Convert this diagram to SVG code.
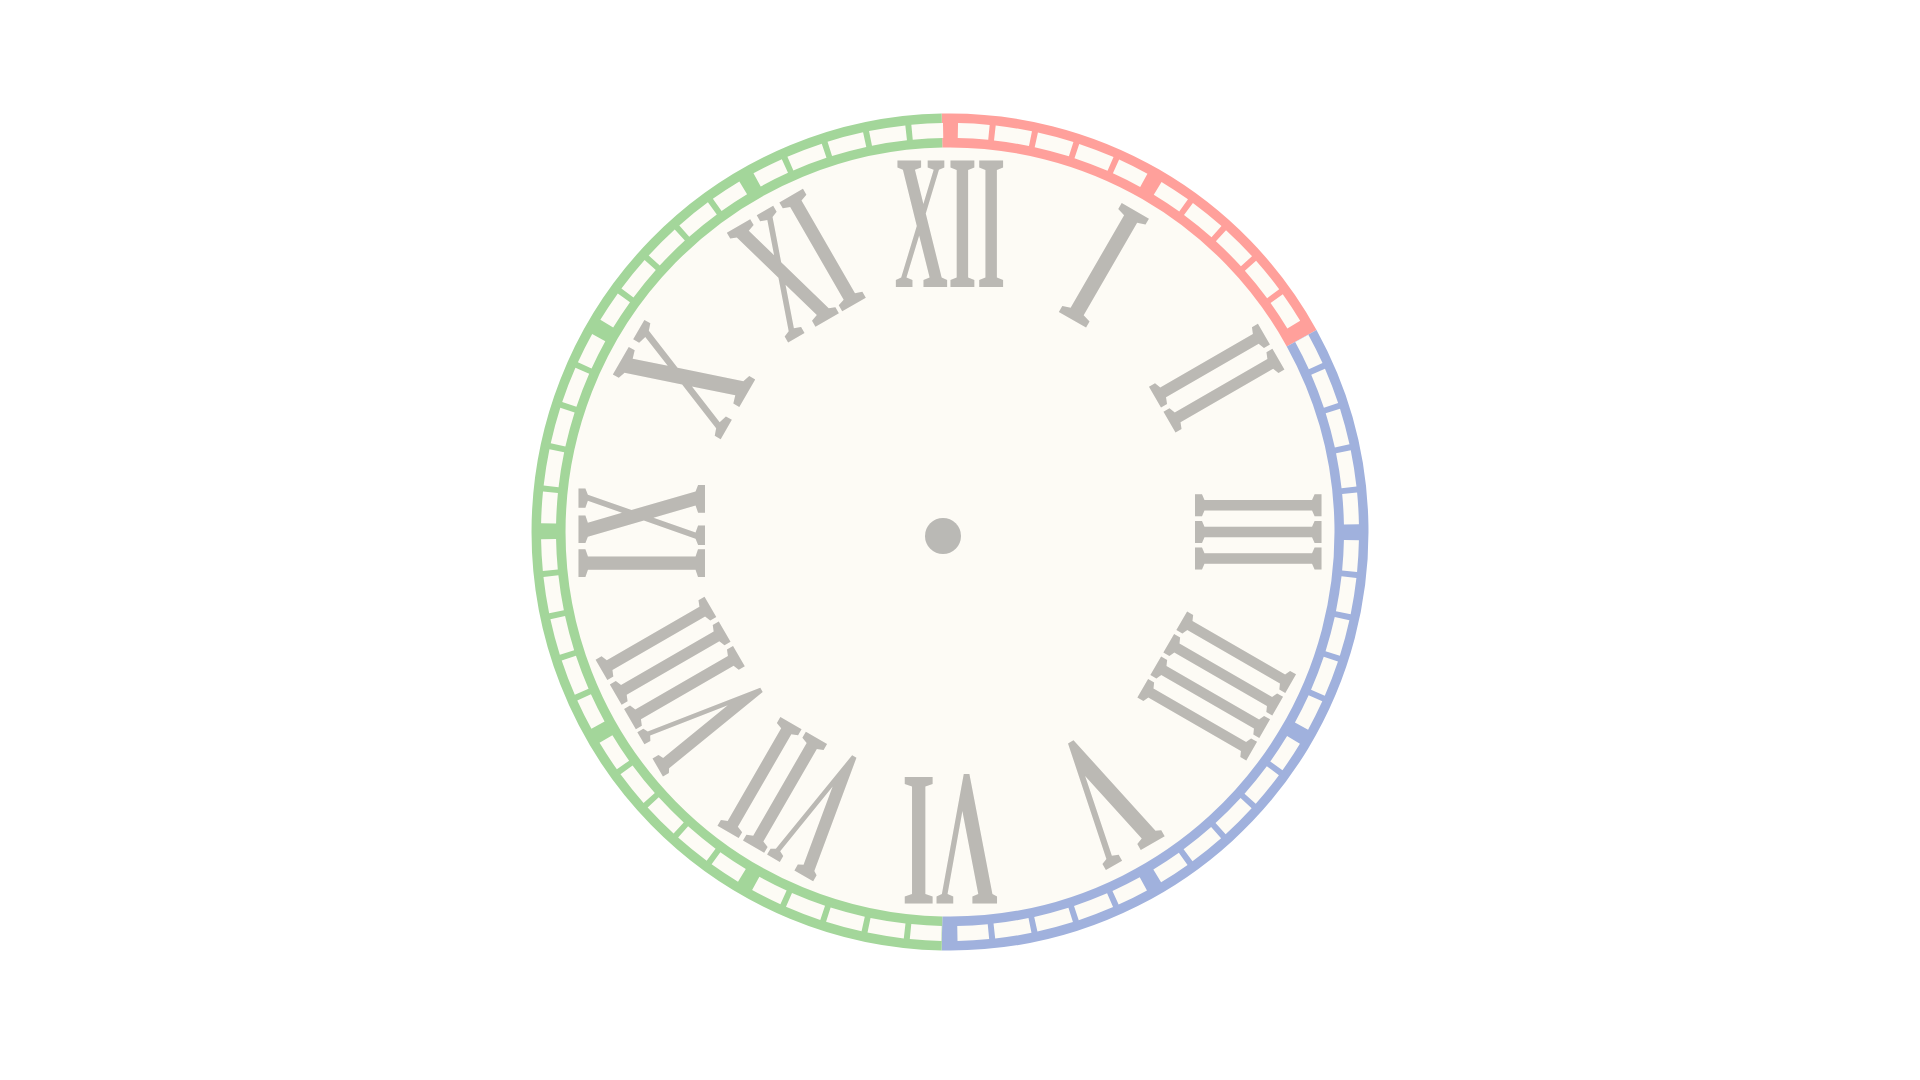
<svg xmlns="http://www.w3.org/2000/svg" width="1920" height="1080" viewBox="0 0 1920 1080">
<style>
.num{font-family:"Liberation Serif","Times New Roman",serif;font-weight:bold;font-size:192px;fill:#bbb9b4;text-anchor:middle}
.band{fill:none;stroke-width:34;stroke-linecap:butt}
</style>
<rect width="1920" height="1080" fill="#ffffff"/>
<g id="face">
<circle cx="950" cy="532" r="418" fill="#fdfbf5"/>
</g>
<g id="minute-track">
<path class="band" stroke="#ffa09b" d="M 942.01 130.58 A 401.5 401.5 0 0 1 1301.63 338.21"/>
<path class="band" stroke="#a0b1dd" d="M 1301.63 338.21 A 401.5 401.5 0 0 1 942.01 933.42"/>
<path class="band" stroke="#a3d69a" d="M 942.01 933.42 A 401.5 401.5 0 0 1 942.01 130.58"/>
<circle cx="950" cy="532" r="401.5" fill="none" stroke="#fdfbf5" stroke-width="15" transform="rotate(-90 950 532)" stroke-dasharray="31.045 6 36.045 6 36.045 6 36.045 6 31.045 16" stroke-dashoffset="-8"/>
</g>
<g id="numerals">
<text class="num" x="950" y="287" textLength="111" lengthAdjust="spacingAndGlyphs">XII</text>
<text class="num" x="950" y="287" textLength="38" lengthAdjust="spacingAndGlyphs" transform="rotate(30 950 532)">I</text>
<text class="num" x="950" y="287" textLength="58" lengthAdjust="spacingAndGlyphs" transform="rotate(60 950 532)">II</text>
<text class="num" x="950" y="287" textLength="80" lengthAdjust="spacingAndGlyphs" transform="rotate(90 950 532)">III</text>
<text class="num" x="950" y="287" textLength="104" lengthAdjust="spacingAndGlyphs" transform="rotate(120 950 532)">IIII</text>
<text class="num" x="950" y="287" textLength="70" lengthAdjust="spacingAndGlyphs" transform="rotate(150 950 532)">V</text>
<text class="num" x="950" y="287" textLength="96" lengthAdjust="spacingAndGlyphs" transform="rotate(180 950 532)">VI</text>
<text class="num" x="950" y="287" textLength="114" lengthAdjust="spacingAndGlyphs" transform="rotate(210 950 532)">VII</text>
<text class="num" x="950" y="287" textLength="138" lengthAdjust="spacingAndGlyphs" transform="rotate(240 950 532)">VIII</text>
<text class="num" x="950" y="287" textLength="96" lengthAdjust="spacingAndGlyphs" transform="rotate(270 950 532)">IX</text>
<text class="num" x="950" y="287" textLength="72" lengthAdjust="spacingAndGlyphs" transform="rotate(300 950 532)">X</text>
<text class="num" x="950" y="287" textLength="94" lengthAdjust="spacingAndGlyphs" transform="rotate(330 950 532)">XI</text>
</g>
<g id="hub">
<circle cx="943" cy="536" r="18" fill="#bab9b5"/>
</g>
</svg>
